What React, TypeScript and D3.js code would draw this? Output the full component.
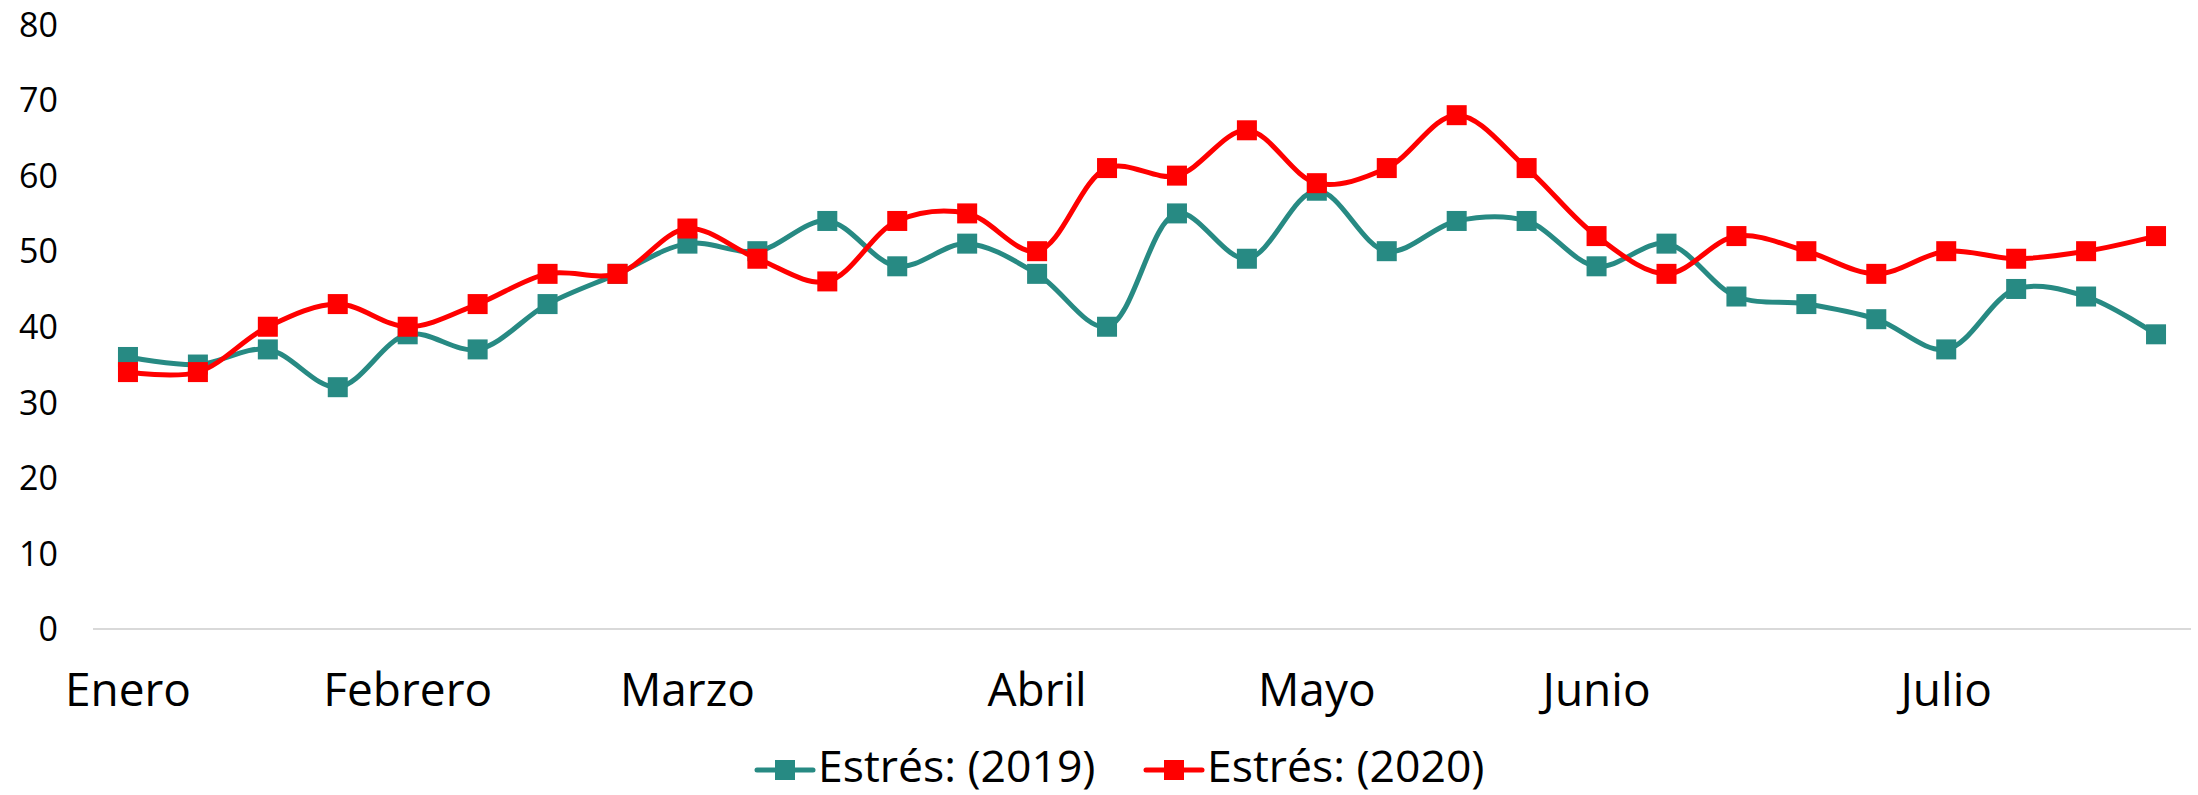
import React from "react";
import * as d3 from "d3";

const categories: string[] = Array.from({ length: 30 }, (_, i) => `p${i}`);
const tickLabels: { index: number; label: string }[] = [
  { index: 0, label: "Enero" },
  { index: 4, label: "Febrero" },
  { index: 8, label: "Marzo" },
  { index: 13, label: "Abril" },
  { index: 17, label: "Mayo" },
  { index: 21, label: "Junio" },
  { index: 26, label: "Julio" },
];
const values2019: number[] = [36, 35, 37, 32, 39, 37, 43, 47, 51, 50, 54, 48, 51, 47, 40, 55, 49, 58, 50, 54, 54, 48, 51, 44, 43, 41, 37, 45, 44, 39];
const values2020: number[] = [34, 34, 40, 43, 40, 43, 47, 47, 53, 49, 46, 54, 55, 50, 61, 60, 66, 59, 61, 68, 61, 52, 47, 52, 50, 47, 50, 49, 50, 52];
const yTicks: number[] = [0, 10, 20, 30, 40, 50, 60, 70, 80];
const seriesNames: string[] = ["Estrés: (2019)", "Estrés: (2020)"];
const seriesColors: string[] = ["#278A83", "#FF0000"];

const W = 2198;
const H = 795;
const FONT = "'Open Sans', 'Noto Sans', sans-serif";

export default function App() {
  const x = d3.scaleBand<string>().domain(categories).range([93, 2191]);
  const y = d3.scaleLinear().domain([0, 80]).range([629, 24.5]);
  const cx = (i: number) => (x(categories[i]) as number) + x.bandwidth() / 2;
  const line = d3
    .line<number>()
    .x((_, i) => cx(i))
    .y((d) => y(d))
    .curve(d3.curveCatmullRom.alpha(0.5));
  const series = [values2019, values2020];
  const legendX = [757, 1146];
  const m = 20;

  return (
    <div style={{ position: "absolute", left: 0, top: 0 }}>
      <svg width={W} height={H} style={{ display: "block", background: "#fff" }}>
        {yTicks.map((t) => (
          <text key={t} x={58} y={y(t)} dy="0.36em" textAnchor="end" fontFamily={FONT} fontSize={34} fill="#000">
            {t}
          </text>
        ))}
        <line x1={93} x2={2191} y1={y(0)} y2={y(0)} stroke="#D9D9D9" strokeWidth={2} />
        {tickLabels.map((t) => (
          <text key={t.label} x={cx(t.index)} y={706} textAnchor="middle" fontFamily={FONT} fontSize={46} fill="#000">
            {t.label}
          </text>
        ))}
        {series.map((vals, s) => (
          <g key={s}>
            <path d={line(vals) || ""} fill="none" stroke={seriesColors[s]} strokeWidth={5} strokeLinejoin="round" />
            {vals.map((v, i) => (
              <rect key={i} x={cx(i) - m / 2} y={y(v) - m / 2} width={m} height={m} fill={seriesColors[s]} />
            ))}
          </g>
        ))}
        {seriesNames.map((n, s) => (
          <g key={n}>
            <line x1={legendX[s]} x2={legendX[s] + 56} y1={770} y2={770} stroke={seriesColors[s]} strokeWidth={5} strokeLinecap="round" />
            <rect x={legendX[s] + 28 - m / 2} y={770 - m / 2} width={m} height={m} fill={seriesColors[s]} />
            <text x={legendX[s] + 61} y={782} fontFamily={FONT} fontSize={44.5} fill="#000">
              {n}
            </text>
          </g>
        ))}
      </svg>
    </div>
  );
}
